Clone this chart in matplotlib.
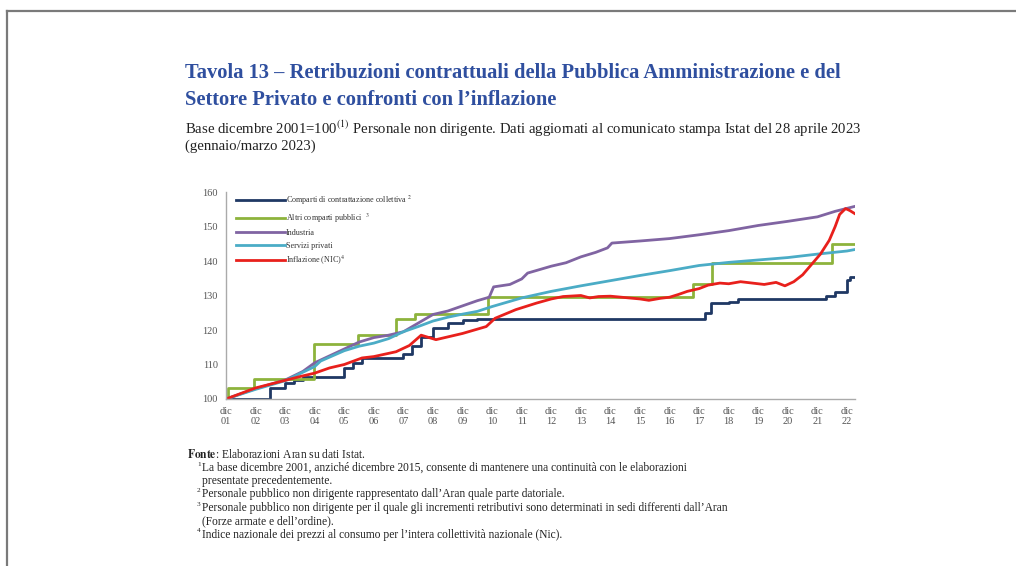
import numpy as np
import matplotlib
matplotlib.use('Agg')
import matplotlib.pyplot as plt
from matplotlib.lines import Line2D

plt.rcParams['font.family'] = ['Liberation Serif', 'DejaVu Serif']
plt.rcParams['mathtext.fontset'] = 'stix'

# -------------------------------------------
# Data: index base dicembre 2001 = 100
# time in years since dicembre 2001 (0 = dic 01, 21 = dic 22)
# -------------------------------------------
tick_labels = ['dic\n%02d' % y for y in range(1, 23)]

comparti_t = [0, 1.5, 2.0, 2.3, 2.6, 4.0, 4.3, 4.6, 6.0, 6.3, 6.6, 7.0, 7.5, 8.0, 8.5,
              16.2, 16.4, 17.0, 17.3, 20.3, 20.6, 21.0, 21.1, 21.25]
comparti_v = [100, 103.1, 104.6, 105.5, 106.3, 109.0, 110.3, 112.0, 113.0, 115.5, 118.0,
              120.5, 122.0, 122.8, 123.3, 125.0, 127.8, 128.2, 129.0, 130.0, 131.0,
              134.5, 135.3, 135.3]

altri_t = [0, 0.08, 0.95, 2.98, 4.45, 5.75, 6.4, 8.85, 15.8, 16.45, 20.5, 21.25]
altri_v = [100, 103.2, 105.7, 116.0, 118.6, 123.2, 124.6, 129.5, 133.4, 139.4, 144.8, 145.0]

industria_t = [0, 1, 2, 2.6, 3, 3.5, 4, 4.5, 5, 5.5, 6, 6.5, 7, 7.5, 8, 8.5, 8.9, 9.05,
               9.6, 10.0, 10.2, 11.0, 11.5, 12.0, 12.5, 12.9, 13.05, 14, 15, 16, 17,
               18, 19, 20, 20.6, 21.25]
industria_v = [100, 103, 105.5, 108.0, 110.5, 112.5, 114.5, 116.5, 117.8, 118.5, 119.5,
               122.0, 124.5, 125.5, 127.0, 128.5, 129.5, 132.5, 133.2, 134.8, 136.5,
               138.5, 139.5, 141.2, 142.5, 143.8, 145.2, 145.8, 146.5, 147.6, 148.8,
               150.3, 151.5, 152.8, 154.4, 155.8]

servizi_t = [0, 1, 2, 3, 3.2, 4, 4.5, 5, 5.5, 6, 6.5, 7, 7.5, 8, 8.5, 9, 10, 11, 12,
             13, 14, 15, 16, 17, 18, 19, 20, 21, 21.25]
servizi_v = [100, 102.8, 105.3, 109.4, 111.0, 114.0, 115.3, 116.2, 117.5, 119.5, 121.0,
             122.6, 123.7, 124.6, 125.4, 126.8, 129.3, 131.2, 132.8, 134.3, 135.8,
             137.2, 138.7, 139.6, 140.3, 141.0, 142.0, 142.9, 143.3]

inflazione_t = [0, 0.5, 1, 1.5, 2, 2.5, 3, 3.5, 4, 4.6, 5, 5.75, 6.2, 6.6, 7.1, 7.5, 8.0,
                8.8, 9.1, 9.8, 10.5, 11.0, 11.4, 12.0, 12.3, 12.6, 13.0, 13.5, 14.0,
                14.3, 14.7, 15.0, 15.3, 15.6, 16.0, 16.3, 16.7, 17.0, 17.4, 17.8, 18.2,
                18.6, 18.9, 19.2, 19.5, 19.8, 20.1, 20.4, 20.6, 20.75, 20.95, 21.1, 21.25]
inflazione_v = [100, 101.6, 103.2, 104.3, 105.4, 106.5, 107.5, 109.0, 110.0, 111.9,
                112.3, 113.7, 115.5, 118.5, 117.2, 118.0, 119.0, 121.0, 123.4, 125.9,
                127.8, 129.0, 129.7, 130.0, 129.3, 129.7, 129.8, 129.4, 129.0, 128.6,
                129.2, 129.5, 130.3, 131.2, 132.0, 133.0, 133.6, 133.4, 134.0, 133.6,
                133.2, 133.8, 132.8, 134.0, 136.0, 139.0, 142.0, 146.0, 150.0, 153.5,
                155.2, 154.6, 153.8]

# -------------------------------------------
# Figure / page
# -------------------------------------------
W, H = 1016, 566
fig = plt.figure(figsize=(W / 100, H / 100), dpi=100)
fig.patch.set_facecolor('white')

def fx(px):
    return px / W

def fy(py):
    return 1 - py / H

# page frame of the screenshot
fig.add_artist(Line2D([fx(7), 1], [fy(11), fy(11)], color='#7a7a7a', lw=1.6))
fig.add_artist(Line2D([fx(7), fx(7)], [fy(11), 0], color='#7a7a7a', lw=1.6))

title_col = '#2f4f9f'
fig.text(fx(185), fy(73), 'Tavola 13 \u2013 Retribuzioni contrattuali della Pubblica Amministrazione e del',
         color=title_col, fontsize=14.8, fontweight='bold', va='center')
fig.text(fx(185), fy(100), 'Settore Privato e confronti con l\u2019inflazione',
         color=title_col, fontsize=14.8, fontweight='bold', va='center')
fig.text(fx(185), fy(129), 'Base dicembre 2001=100$^{\\rm (1)}$ Personale non dirigente. Dati aggiornati '
         'al comunicato stampa Istat del 28 aprile 2023', fontsize=10.6, va='center', color='#222222')
fig.text(fx(185), fy(146), '(gennaio/marzo 2023)', fontsize=10.6, va='center', color='#222222')

# -------------------------------------------
# Chart
# -------------------------------------------
ax = fig.add_axes([fx(226), fy(399), fx(855) - fx(226), fy(192) - fy(399)])
lw = 2.0
ax.plot(comparti_t, comparti_v, drawstyle='steps-post', color='#1f3864', lw=lw,
        label='Comparti di contrattazione collettiva $^{2}$')
ax.plot(altri_t, altri_v, drawstyle='steps-post', color='#8db33c', lw=lw,
        label='Altri comparti pubblici  $^{3}$')
ax.plot(industria_t, industria_v, color='#8064a2', lw=lw, label='Industria')
ax.plot(servizi_t, servizi_v, color='#4bacc6', lw=lw, label='Servizi privati')
ax.plot(inflazione_t, inflazione_v, color='#e8201c', lw=lw, label='Inflazione (NIC)$^{4}$')

ax.set_xlim(0, 21.27)
ax.set_ylim(100, 160)
ax.set_yticks(np.arange(100, 161, 10))
ax.set_xticks(np.arange(0, 22))
ax.set_xticklabels(tick_labels, linespacing=1.1)
ax.tick_params(axis='both', labelsize=7.5, colors='#555555', length=0, pad=6)
for s in ['top', 'right']:
    ax.spines[s].set_visible(False)
for s in ['left', 'bottom']:
    ax.spines[s].set_color('#aaaaaa')
    ax.spines[s].set_linewidth(1.0)

leg = ax.legend(loc='upper left', bbox_to_anchor=(0.01, 1.01), frameon=False,
                fontsize=5.9, handlelength=6.0, handletextpad=0.1, labelspacing=0.55,
                borderaxespad=0)
for t in leg.get_texts():
    t.set_color('#333333')

# -------------------------------------------
# Notes
# -------------------------------------------
fs = 8.3
note_col = '#222222'
fig.text(fx(187), fy(455), '$\\mathbf{Fonte}$: Elaborazioni Aran su dati Istat.', fontsize=fs,
         va='center', color=note_col)
notes = [
    ('1', 468, 'La base dicembre 2001, anzich\u00e9 dicembre 2015, consente di mantenere '
               'una continuit\u00e0 con le elaborazioni'),
    ('', 481, 'presentate precedentemente.'),
    ('2', 494, 'Personale pubblico non dirigente rappresentato dall\u2019Aran quale parte datoriale.'),
    ('3', 508, 'Personale pubblico non dirigente per il quale gli incrementi retributivi '
               'sono determinati in sedi differenti dall\u2019Aran'),
    ('', 521, '(Forze armate e dell\u2019ordine).'),
    ('4', 535, 'Indice nazionale dei prezzi al consumo per l\u2019intera collettivit\u00e0 '
               'nazionale (Nic).'),
]
for num, y, s in notes:
    if num:
        fig.text(fx(197), fy(y - 4), num, fontsize=5.2, va='center', color=note_col)
    fig.text(fx(202), fy(y), s, fontsize=fs, va='center', color=note_col)

fig.savefig('out.png', dpi=100)
